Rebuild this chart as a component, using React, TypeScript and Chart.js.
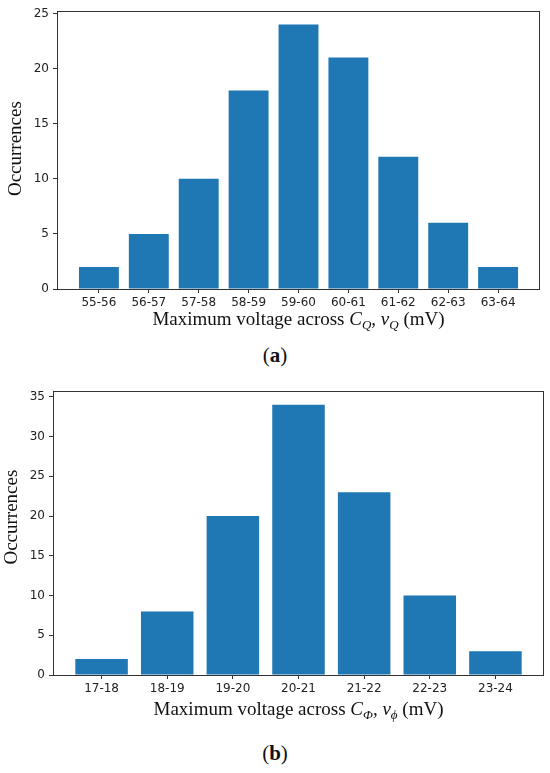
import React, { useEffect, useRef } from 'react';
import { Chart, registerables } from 'chart.js';

Chart.register(...registerables);

const labelsA = ['55-56', '56-57', '57-58', '58-59', '59-60', '60-61', '61-62', '62-63', '63-64'];
const countsA = [2, 5, 10, 18, 24, 21, 12, 6, 2];
const yTicksA = [0, 5, 10, 15, 20, 25];

const labelsB = ['17-18', '18-19', '19-20', '20-21', '21-22', '22-23', '23-24'];
const countsB = [2, 8, 20, 34, 23, 10, 3];
const yTicksB = [0, 5, 10, 15, 20, 25, 30, 35];

const BAR_COLOR = '#1f77b4';
const SERIF = '"Liberation Serif", "Times New Roman", serif';
const SANS = '"DejaVu Sans", sans-serif';

type Seg = { t: string; style?: string; size?: number; dy?: number };

const titleA: Seg[] = [
  { t: 'Maximum voltage across ' },
  { t: 'C', style: 'italic' },
  { t: 'Q', style: 'italic', size: 13, dy: 4 },
  { t: ', ' },
  { t: 'v', style: 'italic' },
  { t: 'Q', style: 'italic', size: 13, dy: 4 },
  { t: ' (mV)' },
];

const titleB: Seg[] = [
  { t: 'Maximum voltage across ' },
  { t: 'C', style: 'italic' },
  { t: 'Φ', style: 'italic', size: 13, dy: 4 },
  { t: ', ' },
  { t: 'v', style: 'italic' },
  { t: 'ϕ', style: 'italic', size: 13, dy: 4 },
  { t: ' (mV)' },
];

// frame + axis titles drawn by hand (mixed italic / subscript text)
const decorPlugin = {
  id: 'decor',
  afterDraw(chart: any, _args: any, opts: any) {
    const { ctx, chartArea: a } = chart;
    ctx.save();
    ctx.strokeStyle = '#333';
    ctx.lineWidth = 1;
    ctx.strokeRect(Math.round(a.left) + 0.5, Math.round(a.top) + 0.5,
      Math.round(a.right - a.left) - 1, Math.round(a.bottom - a.top));

    ctx.fillStyle = '#111';
    ctx.textBaseline = 'alphabetic';
    const segs: Seg[] = opts.xTitle || [];
    const fontOf = (s: Seg) => `${s.style || 'normal'} ${s.size || 19}px ${SERIF}`;
    let total = 0;
    segs.forEach((s) => { ctx.font = fontOf(s); total += ctx.measureText(s.t).width; });
    let x = (a.left + a.right) / 2 - total / 2;
    segs.forEach((s) => {
      ctx.font = fontOf(s);
      ctx.fillText(s.t, x, opts.xTitleY + (s.dy || 0));
      x += ctx.measureText(s.t).width;
    });

    ctx.translate(opts.yTitleX, (a.top + a.bottom) / 2 + (opts.yTitleShift || 0));
    ctx.rotate(-Math.PI / 2);
    ctx.font = `19px ${SERIF}`;
    ctx.textAlign = 'center';
    ctx.textBaseline = 'middle';
    ctx.fillText('Occurrences', 0, 0);
    ctx.restore();
  },
};

interface HistProps {
  labels: string[];
  counts: number[];
  yTicks: number[];
  yMax: number;
  xTitle: Seg[];
  height: number;
  pad: { top: number; right: number };
  yWidth: number;
  xHeight: number;
  xTitleY: number;
  yTitleX: number;
  yTitleShift: number;
}

const Histogram: React.FC<HistProps> = (p) => {
  const canvasRef = useRef<HTMLCanvasElement>(null);
  const chartRef = useRef<Chart | null>(null);

  useEffect(() => {
    if (!canvasRef.current) return;
    if (chartRef.current) chartRef.current.destroy();
    const n = p.labels.length;
    const span = n - 1 + 0.8;
    const xMin = -0.4 - 0.05 * span;
    const xMax = n - 1 + 0.4 + 0.05 * span;

    chartRef.current = new Chart(canvasRef.current, {
      type: 'bar',
      data: {
        datasets: [
          {
            data: p.counts.map((v, i) => ({ x: i, y: v })),
            backgroundColor: BAR_COLOR,
            barPercentage: 0.8,
            categoryPercentage: 1,
          },
        ],
      },
      options: {
        responsive: true,
        maintainAspectRatio: false,
        animation: false,
        layout: { padding: { top: p.pad.top, right: p.pad.right, left: 0, bottom: 0 } },
        scales: {
          x: {
            type: 'linear',
            min: xMin,
            max: xMax,
            offset: false,
            afterBuildTicks: (s: any) => { s.ticks = p.labels.map((_, i) => ({ value: i })); },
            afterFit: (s: any) => { s.height = p.xHeight; },
            ticks: {
              callback: (v: any) => p.labels[v] ?? '',
              font: { family: SANS, size: 12 },
              color: '#222',
              padding: 3,
              maxRotation: 0,
              autoSkip: false,
            },
            grid: { display: true, offset: false, drawOnChartArea: false, drawTicks: true, tickLength: 4, color: '#333' },
            border: { display: false },
          },
          y: {
            min: 0,
            max: p.yMax,
            afterBuildTicks: (s: any) => { s.ticks = p.yTicks.map((v) => ({ value: v })); },
            afterFit: (s: any) => { s.width = p.yWidth; },
            ticks: {
              font: { family: SANS, size: 12 },
              color: '#222',
              padding: 4,
            },
            grid: { display: true, drawOnChartArea: false, drawTicks: true, tickLength: 4, color: '#333' },
            border: { display: false },
          },
        },
        plugins: {
          legend: { display: false },
          tooltip: { enabled: false },
          decor: {
            xTitle: p.xTitle,
            xTitleY: p.xTitleY,
            yTitleX: p.yTitleX,
            yTitleShift: p.yTitleShift,
          },
        } as any,
      },
      plugins: [decorPlugin],
    });

    return () => {
      if (chartRef.current) {
        chartRef.current.destroy();
        chartRef.current = null;
      }
    };
  }, [p]);

  return (
    <div style={{ position: 'relative', width: 550, height: p.height }}>
      <canvas ref={canvasRef}></canvas>
    </div>
  );
};

const Caption: React.FC<{ letter: string; top: number }> = ({ letter, top }) => (
  <div
    style={{
      position: 'absolute',
      top,
      left: 0,
      width: 550,
      textAlign: 'center',
      fontFamily: SERIF,
      fontSize: 21,
      lineHeight: '21px',
      color: '#111',
    }}
  >
    (<b>{letter}</b>)
  </div>
);

const propsA: HistProps = {
  labels: labelsA, counts: countsA, yTicks: yTicksA, yMax: 25.2, xTitle: titleA,
  height: 340, pad: { top: 7, right: 10 }, yWidth: 57, xHeight: 51,
  xTitleY: 325, yTitleX: 16, yTitleShift: -1.5,
};

const propsB: HistProps = {
  labels: labelsB, counts: countsB, yTicks: yTicksB, yMax: 35.7, xTitle: titleB,
  height: 345, pad: { top: 10, right: 6 }, yWidth: 53, xHeight: 50,
  xTitleY: 335, yTitleX: 12, yTitleShift: -16,
};

export default function App() {
  useEffect(() => {
    document.body.style.margin = '0';
  }, []);

  return (
    <div style={{ position: 'relative', width: 550, height: 773, background: '#fff' }}>
      <div style={{ position: 'absolute', top: 0, left: 0 }}>
        <Histogram {...propsA} />
      </div>
      <Caption letter="a" top={345} />
      <div style={{ position: 'absolute', top: 380, left: 0 }}>
        <Histogram {...propsB} />
      </div>
      <Caption letter="b" top={743} />
    </div>
  );
}
